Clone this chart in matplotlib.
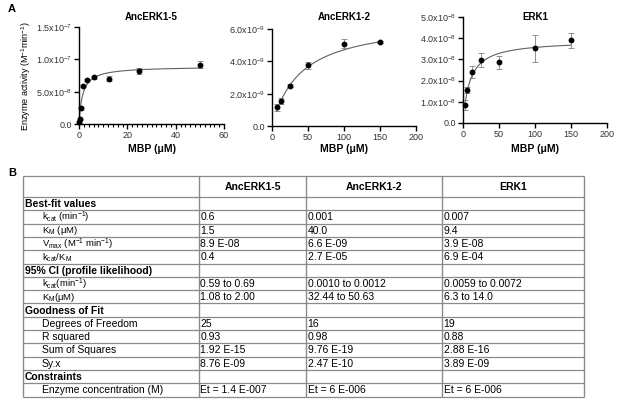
import numpy as np
import matplotlib
matplotlib.use("Agg")
import matplotlib.pyplot as plt
from matplotlib.ticker import FuncFormatter, MultipleLocator

plt.rcParams['font.family'] = ['Liberation Sans', 'DejaVu Sans']
plt.rcParams['mathtext.default'] = 'regular'

# ---- panel A data ----
names = ["AncERK1-5", "AncERK1-2", "ERK1"]

mbp_5 = [0.195, 0.39, 0.78, 1.56, 3.125, 6.25, 12.5, 25, 50]
act_5 = [0.3e-8, 0.7e-8, 2.4e-8, 5.9e-8, 6.8e-8, 7.2e-8, 7.0e-8, 8.2e-8, 9.2e-8]
err_5 = [0.1e-8, 0.15e-8, 0.2e-8, 0.2e-8, 0.2e-8, 0.2e-8, 0.4e-8, 0.5e-8, 0.6e-8]

mbp_2 = [6.25, 12.5, 25, 50, 100, 150]
act_2 = [1.15e-9, 1.55e-9, 2.5e-9, 3.75e-9, 5.1e-9, 5.2e-9]
err_2 = [0.2e-9, 0.2e-9, 0.1e-9, 0.2e-9, 0.3e-9, 0.05e-9]

mbp_1 = [3.125, 6.25, 12.5, 25, 50, 100, 150]
act_1 = [0.85e-8, 1.55e-8, 2.4e-8, 2.97e-8, 2.87e-8, 3.52e-8, 3.9e-8]
err_1 = [0.25e-8, 0.15e-8, 0.3e-8, 0.35e-8, 0.3e-8, 0.65e-8, 0.35e-8]

# fitted Michaelis-Menten parameters (from table B)
vmax = [8.9e-8, 6.6e-9, 3.9e-8]
km = [1.5, 40.0, 9.4]

xlims = [60, 200, 200]
xmajor = [20, 50, 50]
ylims = [1.5e-7, 6e-9, 5e-8]
ystep = [5e-8, 2e-9, 1e-8]

# ---- table B data ----
col_heads = ["AncERK1-5", "AncERK1-2", "ERK1"]
row_labels = ["Best-fit values", "k$_{cat}$ (min$^{-1}$)", "K$_{M}$ (\u03bcM)",
              "V$_{max}$ (M$^{-1}$ min$^{-1}$)", "k$_{cat}$/K$_{M}$",
              "95% CI (profile likelihood)", "k$_{cat}$(min$^{-1}$)", "K$_{M}$(\u03bcM)",
              "Goodness of Fit", "Degrees of Freedom", "R squared", "Sum of Squares", "Sy.x",
              "Constraints", "Enzyme concentration (M)"]
section_rows = [0, 5, 8, 13]
col_anc5 = ["", "0.6", "1.5", "8.9 E-08", "0.4", "", "0.59 to 0.69", "1.08 to 2.00",
            "", "25", "0.93", "1.92 E-15", "8.76 E-09", "", "Et = 1.4 E-007"]
col_anc2 = ["", "0.001", "40.0", "6.6 E-09", "2.7 E-05", "", "0.0010 to 0.0012", "32.44 to 50.63",
            "", "16", "0.98", "9.76 E-19", "2.47 E-10", "", "Et = 6 E-006"]
col_erk1 = ["", "0.007", "9.4", "3.9 E-08", "6.9 E-04", "", "0.0059 to 0.0072", "6.3 to 14.0",
            "", "19", "0.88", "2.88 E-16", "3.89 E-09", "", "Et = 6 E-006"]

W, H = 617, 407
fig = plt.figure(figsize=(W / 100, H / 100), dpi=100)


def px_axes(l, r, top, bot):
    return fig.add_axes([l / W, 1 - bot / H, (r - l) / W, (bot - top) / H])


def sci_fmt(v, pos):
    if abs(v) < 1e-20:
        return "0.0"
    e = int(np.floor(np.log10(abs(v))))
    return "%.1fx10$^{%d}$" % (v / 10 ** e, e)


boxes = [(79, 224, 27, 124), (272, 416, 29, 126), (463, 607, 17, 123)]
series = [(mbp_5, act_5, err_5), (mbp_2, act_2, err_2), (mbp_1, act_1, err_1)]

for i in range(3):
    ax = px_axes(*boxes[i])
    xs, ys, es = series[i]
    xx = np.linspace(xs[0], xs[-1], 300)
    ax.plot(xx, vmax[i] * xx / (km[i] + xx), color="#606060", lw=0.8, clip_on=False)
    ax.errorbar(xs, ys, yerr=es, fmt="none", ecolor="#808080", elinewidth=0.6,
                capsize=2, capthick=0.6, clip_on=False)
    ax.plot(xs, ys, "o", color="black", ms=3.2, clip_on=False, zorder=5)
    ax.set_xlim(0, xlims[i])
    ax.set_ylim(0, ylims[i])
    ax.xaxis.set_major_locator(MultipleLocator(xmajor[i]))
    if i == 0:
        ax.xaxis.set_minor_locator(MultipleLocator(2))
    ax.yaxis.set_major_locator(MultipleLocator(ystep[i]))
    ax.yaxis.set_major_formatter(FuncFormatter(sci_fmt))
    for s in ["top", "right"]:
        ax.spines[s].set_visible(False)
    for s in ["left", "bottom"]:
        ax.spines[s].set_linewidth(1.0)
    ax.tick_params(which="major", length=3.5, width=1.0, labelsize=6.5, pad=1.5, colors="black")
    ax.tick_params(which="minor", length=2, width=0.8)
    ax.tick_params(axis="x", labelcolor="#333333")
    ax.tick_params(axis="y", labelcolor="#333333")
    cx = (boxes[i][0] + boxes[i][1]) / 2
    fig.text(cx / W, 1 - 17 / H, names[i], ha="center", va="center", fontsize=7, fontweight="bold")
    fig.text(cx / W, 1 - 149 / H, "MBP (\u03bcM)", ha="center", va="center", fontsize=7.5,
             fontweight="bold")

fig.text(26 / W, 1 - 76 / H, "Enzyme activity (M$^{-1}$min$^{-1}$)", rotation=90,
         ha="center", va="center", fontsize=6.5)
fig.text(8 / W, 1 - 9 / H, "A", fontsize=8, fontweight="bold", ha="left", va="center")
fig.text(8 / W, 1 - 173 / H, "B", fontsize=8, fontweight="bold", ha="left", va="center")

# ---- table B ----
tb = fig.add_axes([0, 0, 1, 1])
tb.set_xlim(0, W)
tb.set_ylim(H, 0)
tb.axis("off")

col_x = [23, 199, 306, 442, 584]
top, head_bot, row_h = 176, 197, 13.3
nrows = len(row_labels)
ylines = [top, head_bot] + [head_bot + row_h * (k + 1) for k in range(nrows)]
grid_c = "#8a8a8a"
tb.hlines(ylines, col_x[0], col_x[-1], color=grid_c, lw=0.9)
tb.vlines(col_x, top, ylines[-1], color=grid_c, lw=1.0)

for j, h in enumerate(col_heads):
    tb.text((col_x[j + 1] + col_x[j + 2]) / 2, (top + head_bot) / 2 + 0.5, h,
            ha="center", va="center", fontsize=7.5, fontweight="bold")

cols = [col_anc5, col_anc2, col_erk1]
for k, lab in enumerate(row_labels):
    yc = head_bot + row_h * (k + 0.5) + 0.5
    if k in section_rows:
        tb.text(25, yc, lab, ha="left", va="center", fontsize=7.5, fontweight="bold")
    elif "$" in lab:
        tb.text(42, yc, lab, ha="left", va="center", fontsize=6.8)
    else:
        tb.text(42, yc, lab, ha="left", va="center", fontsize=7.5)
    for j in range(3):
        tb.text(col_x[j + 1] + 1.5, yc, cols[j][k], ha="left", va="center", fontsize=7.5)

fig.savefig("out.png", dpi=100)
